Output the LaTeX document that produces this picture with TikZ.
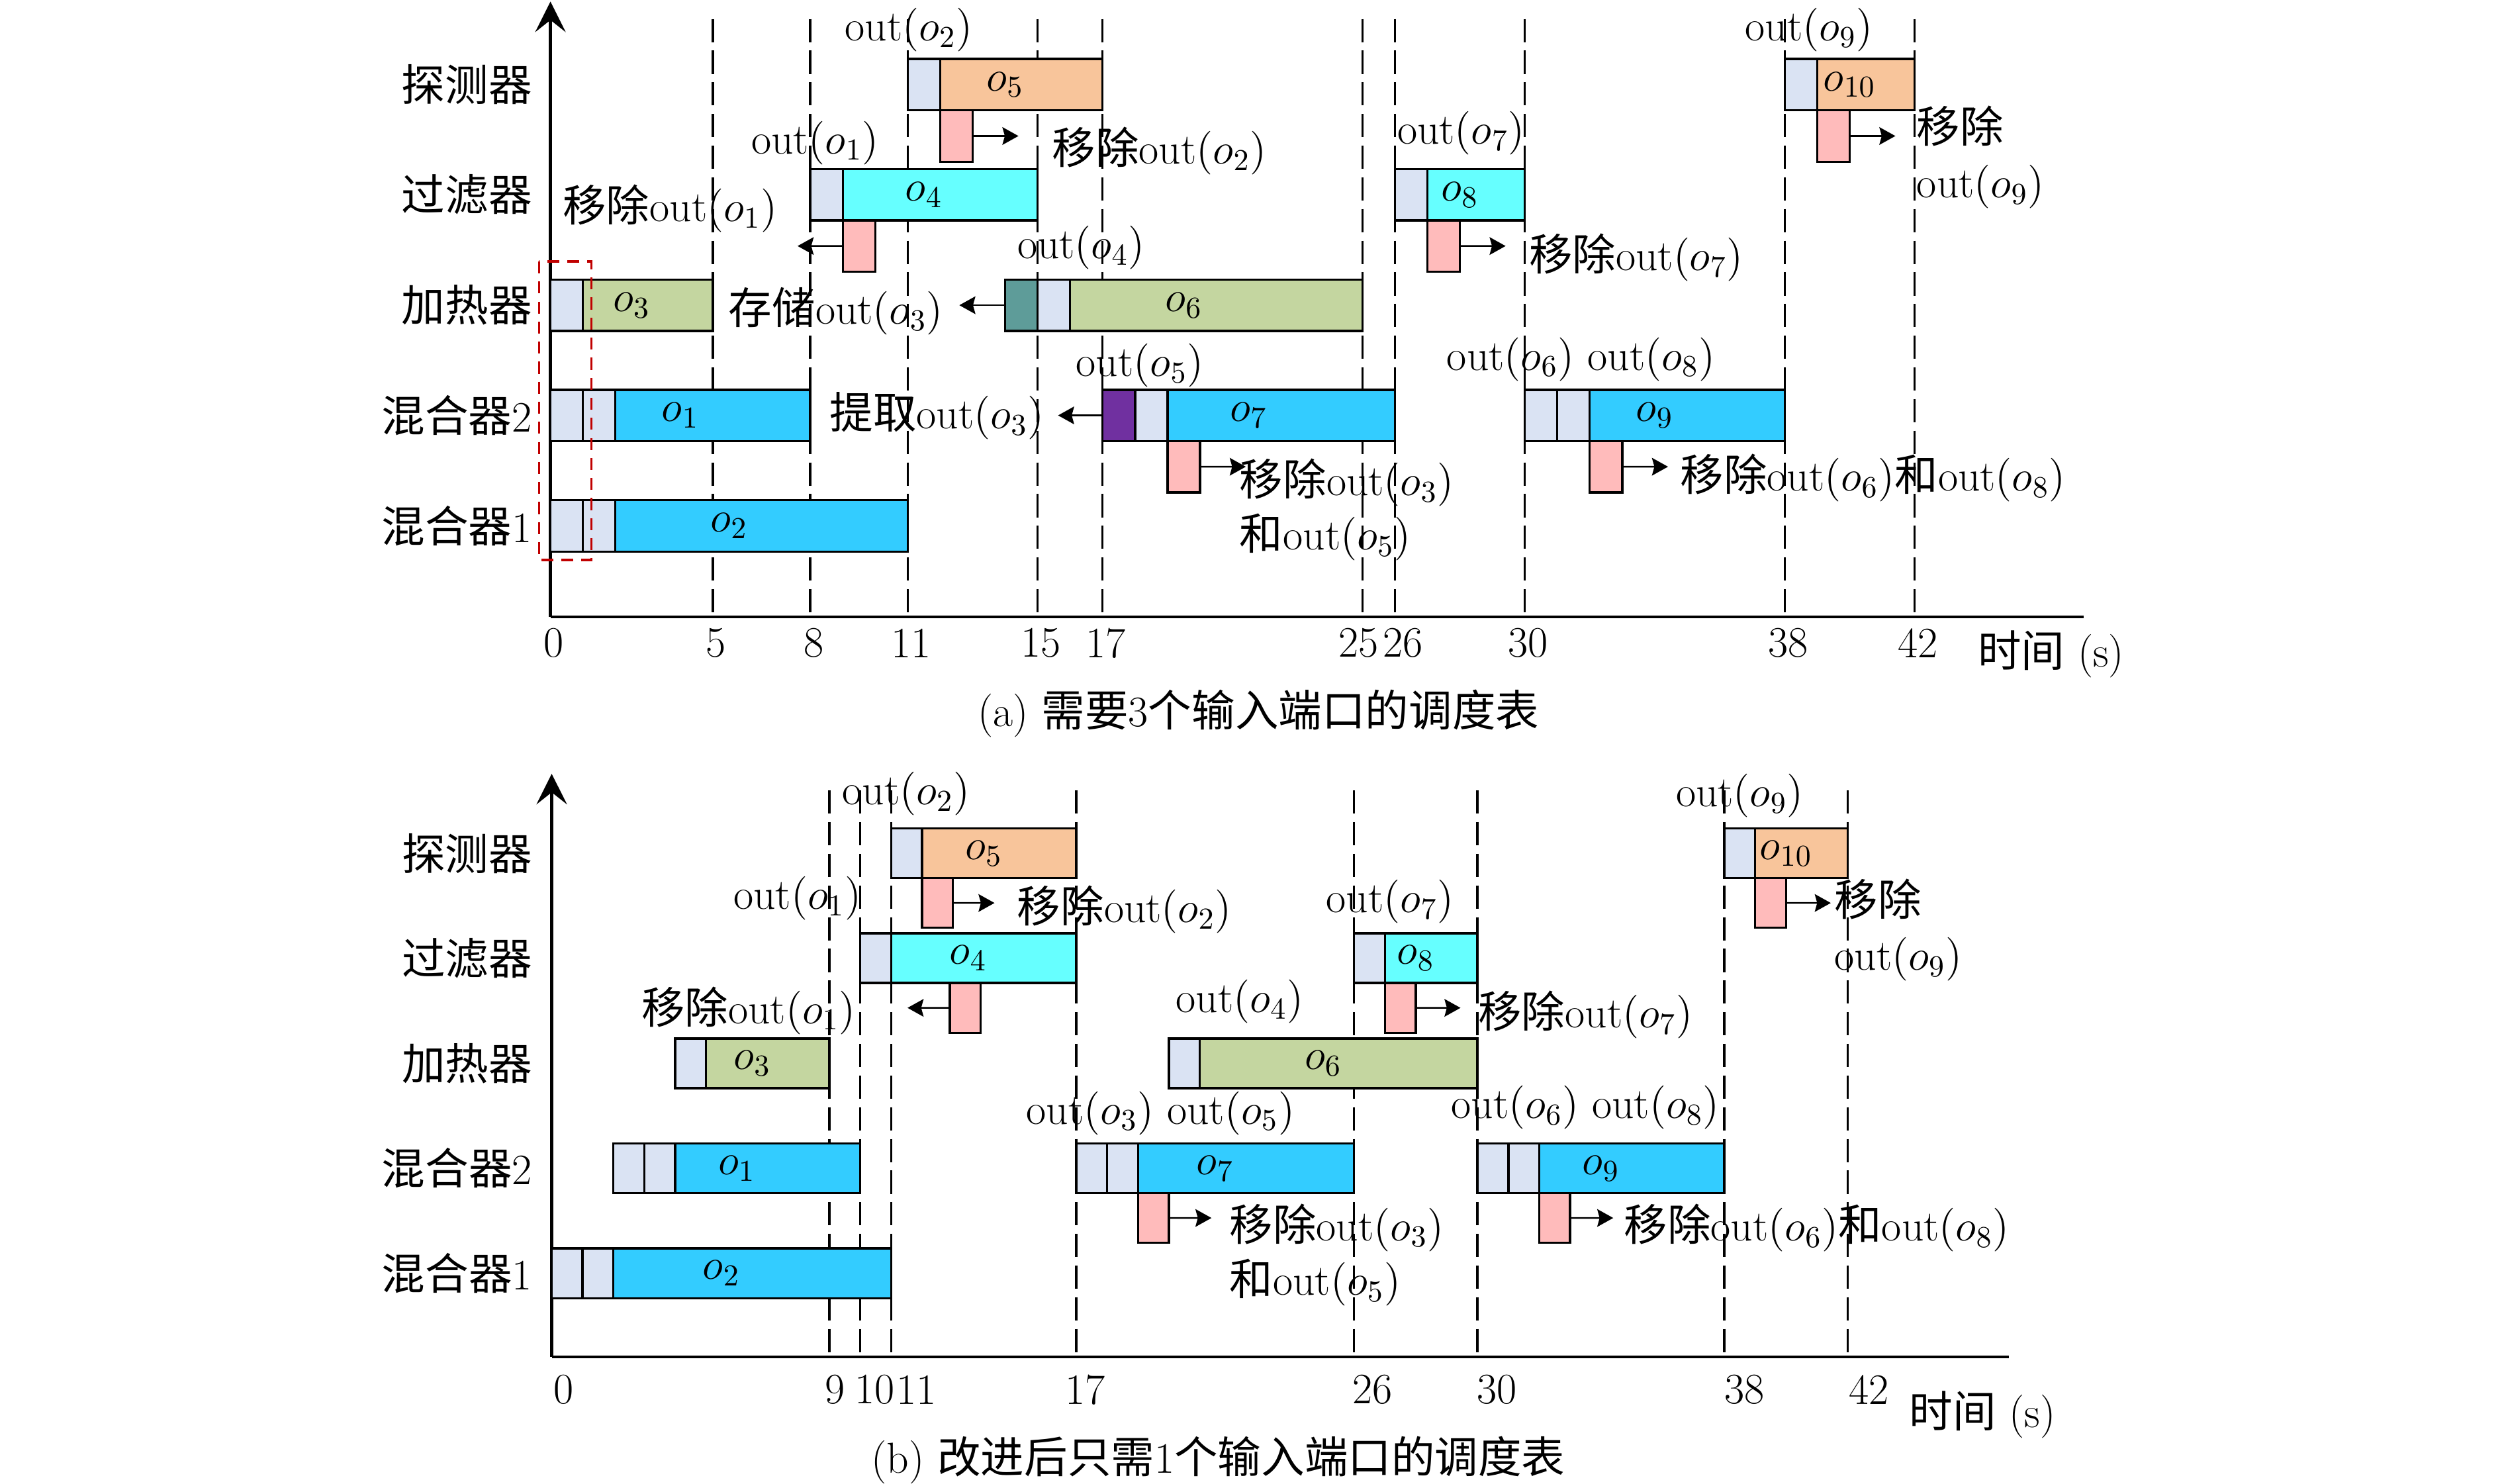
\documentclass[tikz,border=0pt]{standalone}
\usepackage{fix-cm}
\usepackage{fontspec}
\usepackage{amsmath}
\usepackage{xcolor}
\usetikzlibrary{arrows.meta,positioning}
\newfontfamily\zhfont{Noto Sans CJK SC}
\newcommand{\zh}[1]{{\zhfont #1}}
\newcommand{\lblsize}{\fontsize{15.4}{19.4}\selectfont}
\definecolor{slotc}{HTML}{DAE3F3}
\definecolor{orangec}{HTML}{F8C59B}
\definecolor{cyanc}{HTML}{66FFFF}
\definecolor{bluec}{HTML}{33CCFF}
\definecolor{greenc}{HTML}{C4D6A0}
\definecolor{tealc}{HTML}{5E9C99}
\definecolor{purplec}{HTML}{7030A0}
\definecolor{pinkc}{HTML}{FFBBBB}
\definecolor{redc}{HTML}{C00000}
\tikzset{
    %Define standard arrow tip
    >={Stealth[length=2mm,width=2.2mm,inset=0.3mm]},
    %Define style for boxes
    seg/.style={
           draw=black,
           line width=0.8pt,
           inner sep=0pt,
           outer sep=0pt,
           anchor=west,
           minimum height=\bh,
           font=\lblsize},
    job/.style={seg, minimum width=#1*\tu},
    slot/.style={seg, minimum width=\tu, fill=slotc},
    rm/.style={
           draw=black,
           line width=0.8pt,
           inner sep=0pt,
           outer sep=0pt,
           anchor=north west,
           minimum width=\tu,
           minimum height=\bh,
           fill=pinkc},
    lbl/.style={inner sep=0.5mm, font=\lblsize},
    % Define arrow style
    pil/.style={->, line width=0.6pt},
    guide/.style={line width=0.8pt, dash pattern=on 2.9mm off 1.05mm},
    axisline/.style={line width=1pt},
    redbox/.style={draw=redc, line width=0.9pt, dash pattern=on 1.5mm off 1mm}
}
\begin{document}
\begin{tikzpicture}[x=0.2mm, y=-0.2mm]
\useasboundingbox (0,0) rectangle (1560,925);
%% (a)
\begin{scope}[shift={(343.2,0)}, x=4.05mm]
\def\tu{4.05mm}\def\bh{6.4mm}
 %guides
\foreach \t in {5,8,11,15,17,25,26,30,38,42}
    \draw[guide] (\t,11.8) -- (\t,384.5);
 %axes
\coordinate (a0) at (0,384.5);
\coordinate (ay) at (0,1);
\coordinate (ax) at (47.2,384.5);
\draw[axisline, -{Stealth[length=3.8mm,width=3.8mm,inset=1.5mm]}] (a0) -- (ay);
\draw[axisline] (a0) -- (ax);
 %rows
\node[lbl, anchor=east] (d1) at (-0.43,52.8) {\zh{探测器}};
\node[lbl, anchor=east] (d2) at (-0.43,121.4) {\zh{过滤器}};
\node[lbl, anchor=east] (d3) at (-0.43,190.3) {\zh{加热器}};
\node[lbl, anchor=east] (d4) at (-0.43,259) {\zh{混合器}2};
\node[lbl, anchor=east] (d5) at (-0.43,327.9) {\zh{混合器}1};
 %bars
\node[job=11, fill=bluec] (o2) at (0,327.9) {$o_2$};
\node[slot] (s2a) at (0,327.9) {};
\node[slot] (s2b) at (1,327.9) {};
\node[job=8, fill=bluec] (o1) at (0,259) {$o_1$};
\node[slot] (s1a) at (0,259) {};
\node[slot] (s1b) at (1,259) {};
\node[job=5, fill=greenc] (o3) at (0,190.3) {$o_3$};
\node[slot] (s3) at (0,190.3) {};
\node[job=7, fill=cyanc] (o4) at (8,121.4) {$o_4$};
\node[slot] (s4) at (8,121.4) {};
\node[rm] (r4) at (9,137.4) {};
\node[job=6, fill=orangec] (o5) at (11,52.8) {$o_5$};
\node[slot] (s5) at (11,52.8) {};
\node[rm] (r5) at (12,68.8) {};
\node[job=11, fill=greenc] (o6) at (14,190.3) {$o_6$};
\node[slot, fill=tealc] (k6) at (14,190.3) {};
\node[slot] (s6) at (15,190.3) {};
\node[job=9, fill=bluec] (o7) at (17,259) {$o_7$};
\node[slot, fill=purplec] (k7) at (17,259) {};
\node[slot] (s7) at (18,259) {};
\node[rm] (r7) at (19,275) {};
\node[job=4, fill=cyanc] (o8) at (26,121.4) {$o_8$};
\node[slot] (s8) at (26,121.4) {};
\node[rm] (r8) at (27,137.4) {};
\node[job=8, fill=bluec] (o9) at (30,259) {$o_9$};
\node[slot] (s9a) at (30,259) {};
\node[slot] (s9b) at (31,259) {};
\node[rm] (r9) at (32,275) {};
\node[job=4, fill=orangec] (o10) at (38,52.8) {$o_{10}$};
\node[slot] (s10) at (38,52.8) {};
\node[rm] (r10) at (39,68.8) {};
\draw[redbox] (-0.35,163) rectangle (1.26,349.2);
 %arrows
\coordinate (t4) at (7.61,153.4);
\coordinate (t5) at (14.41,84.8);
\coordinate (t6) at (12.59,190.3);
\coordinate (t7) at (15.63,259);
\coordinate (t7r) at (21.41,291);
\coordinate (t8) at (29.41,153.4);
\coordinate (t9) at (34.41,291);
\coordinate (t10) at (41.41,84.8);
\draw[pil] (r4) -- (t4);
\draw[pil] (r5) -- (t5);
\draw[pil] (k6) -- (t6);
\draw[pil] (k7) -- (t7);
\draw[pil] (r7) -- (t7r);
\draw[pil] (r8) -- (t8);
\draw[pil] (r9) -- (t9);
\draw[pil] (r10) -- (t10);
 %labels
\node[lbl] (u2) at (11.03,18.5) {$\mathrm{out}(o_2)$};
\node[lbl] (u1) at (8.15,89) {$\mathrm{out}(o_1)$};
\node[lbl] (m1) at (3.68,130) {\zh{移除}$\mathrm{out}(o_1)$};
\node[lbl] (m2) at (18.75,94) {\zh{移除}$\mathrm{out}(o_2)$};
\node[lbl] (u4) at (16.34,154.5) {$\mathrm{out}(o_4)$};
\node[lbl] (c3) at (8.79,194) {\zh{存储}$\mathrm{out}(o_3)$};
\node[lbl] (g3) at (11.9,259.2) {\zh{提取}$\mathrm{out}(o_3)$};
\node[lbl] (u5) at (18.15,228) {$\mathrm{out}(o_5)$};
\node[lbl, anchor=west, align=left] (m3) at (21.08,317.8) {\zh{移除}$\mathrm{out}(o_3)$\\\zh{和}$\mathrm{out}(o_5)$};
\node[lbl] (u7) at (28.04,82.9) {$\mathrm{out}(o_7)$};
\node[lbl] (m7) at (33.43,160.7) {\zh{移除}$\mathrm{out}(o_7)$};
\node[lbl] (u68) at (31.73,224) {$\mathrm{out}(o_6)\ \mathrm{out}(o_8)$};
\node[lbl, anchor=west] (m68) at (34.65,298) {\zh{移除}$\mathrm{out}(o_6)$\zh{和}$\mathrm{out}(o_8)$};
\node[lbl, anchor=west, align=left] (m9) at (41.93,98) {\zh{移除}\\$\mathrm{out}(o_9)$};
\node[lbl] (u9) at (38.75,18.5) {$\mathrm{out}(o_9)$};
 %time axis
\foreach \t/\p in {0/0.1,5/5.1,8/8.1,11/11.1,15/15.1,17/17.1,25/24.88,26/26.25,30/30.1,38/38.1,42/42.1}
    \node[lbl] (k\t) at (\p,401) {\t};
\node[lbl] (unit) at (46.2,407.8) {\zh{时间} (s)};
\node[lbl] (cap) at (21.8,445) {(a) \zh{需要}3\zh{个输入端口的调度表}};
\end{scope}
%% (b)
\begin{scope}[shift={(344,0)}, x=3.848mm]
\def\tu{3.848mm}\def\bh{6.2mm}
 %guides
\foreach \t in {9,10,11,17,26,30,38,42}
    \draw[guide] (\t,492.8) -- (\t,845.9);
 %axes
\coordinate (b0) at (0,845.9);
\coordinate (by) at (0,482.5);
\coordinate (bx) at (47.23,845.9);
\draw[axisline, -{Stealth[length=3.8mm,width=3.8mm,inset=1.5mm]}] (b0) -- (by);
\draw[axisline] (b0) -- (bx);
 %rows
\node[lbl, anchor=east] (bd1) at (-0.49,532) {\zh{探测器}};
\node[lbl, anchor=east] (bd2) at (-0.49,597.4) {\zh{过滤器}};
\node[lbl, anchor=east] (bd3) at (-0.49,663) {\zh{加热器}};
\node[lbl, anchor=east] (bd4) at (-0.49,728.4) {\zh{混合器}2};
\node[lbl, anchor=east] (bd5) at (-0.49,793.9) {\zh{混合器}1};
 %bars
\node[job=11, fill=bluec] (bo2) at (0,793.9) {$o_2$};
\node[slot] (bs2a) at (0,793.9) {};
\node[slot] (bs2b) at (1,793.9) {};
\node[job=8, fill=bluec] (bo1) at (2,728.4) {$o_1$};
\node[slot] (bs1a) at (2,728.4) {};
\node[slot] (bs1b) at (3,728.4) {};
\node[job=5, fill=greenc] (bo3) at (4,663) {$o_3$};
\node[slot] (bs3) at (4,663) {};
\node[job=7, fill=cyanc] (bo4) at (10,597.4) {$o_4$};
\node[slot] (bs4) at (10,597.4) {};
\node[rm] (br4) at (12.9,612.9) {};
\node[job=6, fill=orangec] (bo5) at (11,532) {$o_5$};
\node[slot] (bs5) at (11,532) {};
\node[rm] (br5) at (12,547.5) {};
\node[job=9, fill=bluec] (bo7) at (17,728.4) {$o_7$};
\node[slot] (bs7a) at (17,728.4) {};
\node[slot] (bs7b) at (18,728.4) {};
\node[rm] (br7) at (19,743.9) {};
\node[job=10, fill=greenc] (bo6) at (20,663) {$o_6$};
\node[slot] (bs6) at (20,663) {};
\node[job=4, fill=cyanc] (bo8) at (26,597.4) {$o_8$};
\node[slot] (bs8) at (26,597.4) {};
\node[rm] (br8) at (27,612.9) {};
\node[job=8, fill=bluec] (bo9) at (30,728.4) {$o_9$};
\node[slot] (bs9a) at (30,728.4) {};
\node[slot] (bs9b) at (31,728.4) {};
\node[rm] (br9) at (32,743.9) {};
\node[job=4, fill=orangec] (bo10) at (38,532) {$o_{10}$};
\node[slot] (bs10) at (38,532) {};
\node[rm] (br10) at (39,547.5) {};
 %arrows
\coordinate (bt4) at (11.53,628.4);
\coordinate (bt5) at (14.35,563);
\coordinate (bt7) at (21.38,759.4);
\coordinate (bt8) at (29.45,628.4);
\coordinate (bt9) at (34.4,759.4);
\coordinate (bt10) at (41.45,563);
\draw[pil] (br4) -- (bt4);
\draw[pil] (br5) -- (bt5);
\draw[pil] (br7) -- (bt7);
\draw[pil] (br8) -- (bt8);
\draw[pil] (br9) -- (bt9);
\draw[pil] (br10) -- (bt10);
 %labels
\node[lbl] (bu2) at (11.48,495) {$\mathrm{out}(o_2)$};
\node[lbl] (bu1) at (7.96,560) {$\mathrm{out}(o_1)$};
\node[lbl] (bm1) at (6.38,630) {\zh{移除}$\mathrm{out}(o_1)$};
\node[lbl] (bm2) at (18.56,567) {\zh{移除}$\mathrm{out}(o_2)$};
\node[lbl] (bu4) at (22.3,624.4) {$\mathrm{out}(o_4)$};
\node[lbl] (bu7) at (27.17,562.3) {$\mathrm{out}(o_7)$};
\node[lbl] (bm7) at (33.5,632.5) {\zh{移除}$\mathrm{out}(o_7)$};
\node[lbl] (bu35) at (19.73,694) {$\mathrm{out}(o_3)\ \mathrm{out}(o_5)$};
\node[lbl] (bu68) at (33.5,690.6) {$\mathrm{out}(o_6)\ \mathrm{out}(o_8)$};
\node[lbl, anchor=west, align=left] (bm3) at (21.82,782.4) {\zh{移除}$\mathrm{out}(o_3)$\\\zh{和}$\mathrm{out}(o_5)$};
\node[lbl, anchor=west] (bm68) at (34.6,765.4) {\zh{移除}$\mathrm{out}(o_6)$\zh{和}$\mathrm{out}(o_8)$};
\node[lbl, anchor=west, align=left] (bm9) at (41.42,579.8) {\zh{移除}\\$\mathrm{out}(o_9)$};
\node[lbl] (bu9) at (38.5,496) {$\mathrm{out}(o_9)$};
 %time axis
\node[lbl, anchor=west] (bk0) at (-0.08,866.5) {0};
\node[lbl, anchor=west] (bk9) at (8.72,866.5) {9};
\node[lbl, anchor=west] (bk10) at (9.68,866.5) {10};
\node[lbl, anchor=west] (bk11) at (11.02,866.5) {11};
\node[lbl, anchor=west] (bk17) at (16.5,866.5) {17};
\node[lbl, anchor=west] (bk26) at (25.81,866.5) {26};
\node[lbl, anchor=west] (bk30) at (29.84,866.5) {30};
\node[lbl, anchor=west] (bk38) at (37.86,866.5) {38};
\node[lbl, anchor=west] (bk42) at (41.9,866.5) {42};
\node[lbl] (bunit) at (46.36,882) {\zh{时间} (s)};
\node[lbl] (bcap) at (21.6,910.5) {(b) \zh{改进后只需}1\zh{个输入端口的调度表}};
\end{scope}
\end{tikzpicture}
\end{document}
